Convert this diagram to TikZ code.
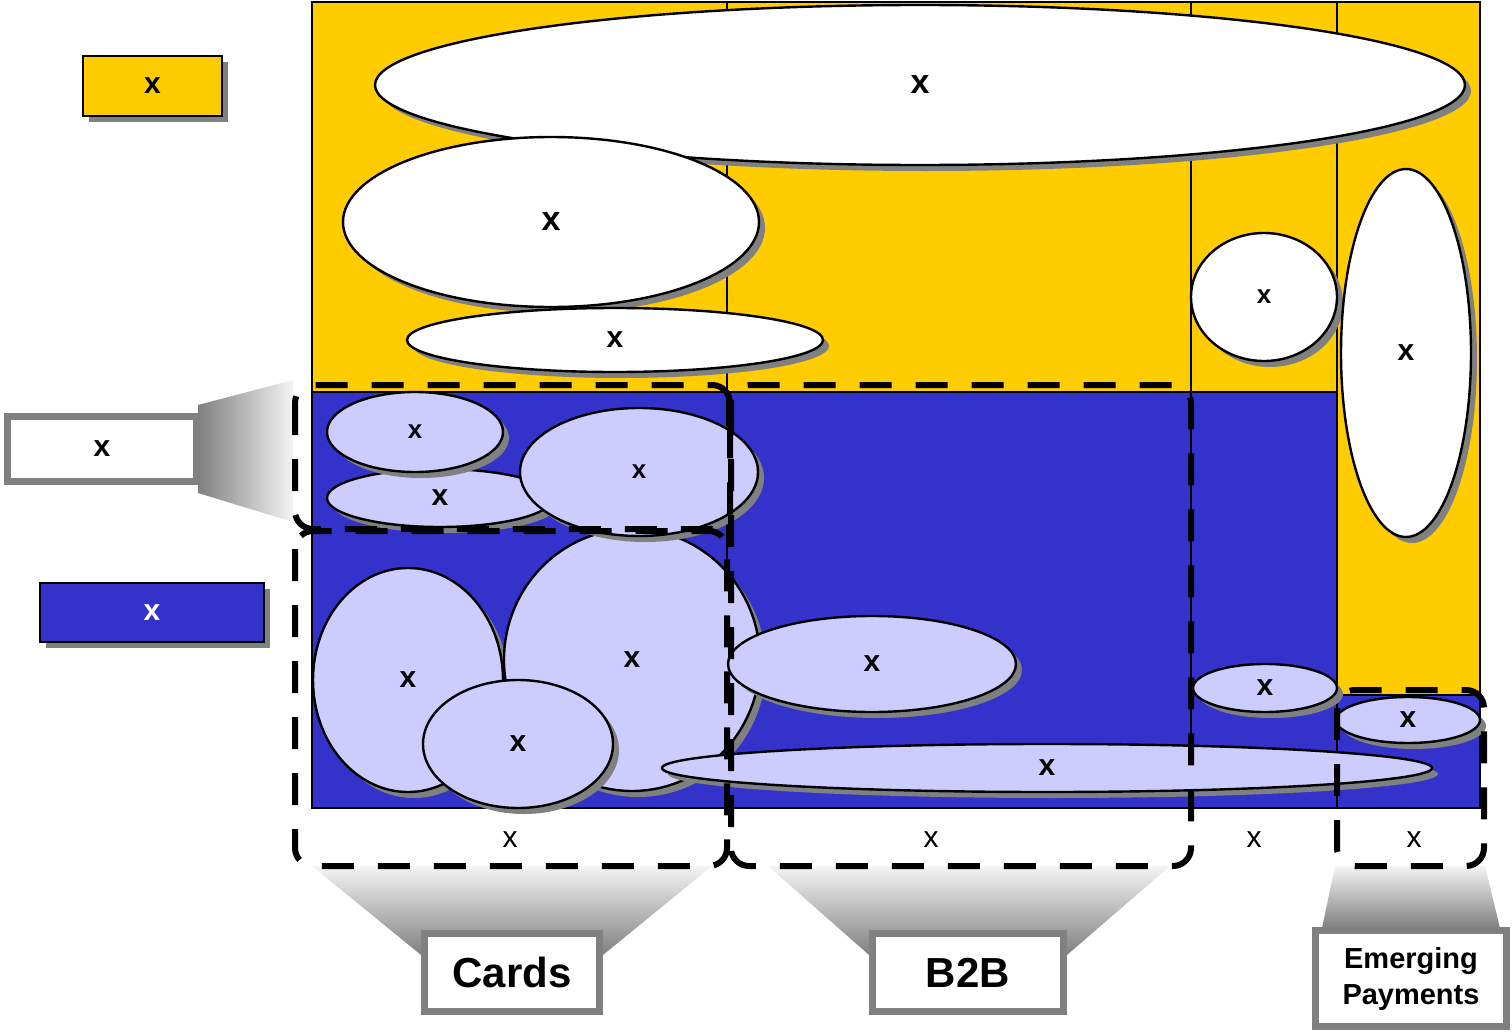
\documentclass[tikz,border=0pt]{standalone}
\usepackage{fontspec}
\setmainfont{Liberation Sans}
\usepackage{xcolor}
\usepackage{tikz}
\usetikzlibrary{shapes.geometric,shadows,positioning}

\definecolor{segYellow}{HTML}{FFCC00}
\definecolor{segBlue}{HTML}{3333CC}
\definecolor{segLilac}{HTML}{CCCCFF}
\definecolor{shadowGray}{HTML}{808080}
\definecolor{fadeGray}{HTML}{F4F4F4}

\begin{document}
\begin{tikzpicture}[x=0.5pt, y=-0.5pt,
  cellline/.style={draw=black, line width=1pt},
  blob/.style={ellipse, draw=black, line width=1.2pt, inner sep=0pt,
    drop shadow={shadow xshift=3pt, shadow yshift=-3pt, fill=shadowGray, opacity=1}},
  wblob/.style={blob, fill=white},
  lblob/.style={blob, fill=segLilac},
  dims/.style 2 args={minimum width=#1pt, minimum height=#2pt},
  lbBig/.style={font=\fontsize{17}{17}\selectfont\bfseries},
  lbMid/.style={font=\fontsize{15}{15}\selectfont\bfseries},
  lbSmall/.style={font=\fontsize{13}{13}\selectfont\bfseries},
  dashbox/.style={draw=black, line width=3pt, dash pattern=on 16pt off 12pt, rounded corners=9pt},
  callout/.style={draw=shadowGray, line width=3.5pt, fill=white, inner sep=0pt, align=center},
  tagfont/.style={font=\fontsize{21}{21}\selectfont\bfseries},
  legendbox/.style={draw=black, line width=1pt, inner sep=0pt, lbMid,
    drop shadow={shadow xshift=3pt, shadow yshift=-3pt, fill=shadowGray, opacity=1}},
  colx/.style={font=\fontsize{15}{15}\selectfont}
]
\useasboundingbox (0,0) rectangle (1512,1033);

% segment grid
\fill[segYellow] (312,2) rectangle (1480,808);
\fill[segBlue] (312,392) rectangle (1337,808);
\fill[segBlue] (1337,695) rectangle (1480,808);
\draw[cellline] (312,2) rectangle (1480,808);
\draw[cellline] (727,2) -- (727,808) (1191,2) -- (1191,808) (1337,2) -- (1337,808);
\draw[cellline] (312,392) -- (1337,392) (1337,695) -- (1480,695);

% upper (yellow) bubbles
\node[wblob, dims={545}{80}, lbBig] (wTop) at (920,85) {x};
\node[wblob, dims={208}{85}, lbBig] (wLeft) at (551,222) {x};
\node[wblob, dims={208}{32}, lbMid] (wFlat) at (615,340) {x};
\node[wblob, dims={73}{64}, lbSmall] (wRound) at (1264,297) {x};
\node[wblob, dims={65}{184}, lbMid] (wTall) at (1406,353) {x};

% lower (blue) bubbles
\node[lblob, dims={95}{112}, lbMid] (lLeft) at (408,680) {x};
\node[lblob, dims={128}{131}, lbMid] (lBig) at (632,660) {x};
\node[lblob, dims={95}{64}, lbMid] (lSmall) at (518,744) {x};
\node[lblob, dims={144}{48}, lbMid] (lMid) at (872,664) {x};
\node[lblob, dims={385}{24}, lbMid] (lLong) at (1047,768) {x};
\node[lblob, dims={113}{29}, lbMid] (lFlat) at (440,498) {x};
\node[lblob, dims={88}{40}, lbSmall] (lTop) at (415,432) {x};
\node[lblob, dims={119}{64}, lbSmall] (lRight) at (639,472) {x};
\node[lblob, dims={72}{24}, lbMid] (lThird) at (1265,688) {x};
\node[lblob, dims={72}{23}, lbMid] (lEdge) at (1408,720) {x};

% fading callout wedges
\shade[left color=shadowGray, right color=fadeGray] (198,405) -- (293,380) -- (293,522) -- (198,493) -- cycle;
\shade[top color=fadeGray, bottom color=shadowGray] (312,866) -- (712,866) -- (603,955) -- (421,955) -- cycle;
\shade[top color=fadeGray, bottom color=shadowGray] (768,866) -- (1170,866) -- (1067,955) -- (869,955) -- cycle;
\shade[top color=fadeGray, bottom color=shadowGray] (1335,866) -- (1485,866) -- (1500,928) -- (1322,928) -- cycle;

% dashed groupings
\draw[dashbox] (295,385) rectangle (730,529);
\draw[dashbox] (295,531) rectangle (727,866);
\draw[dashbox] (731,385) rectangle (1191,866);
\draw[dashbox] (1337,690) rectangle (1484,866);

% column labels
\foreach \n/\x in {colCards/510,colB2B/931,colOther/1254,colEP/1414}
  \node[colx] (\n) at (\x,840) {x};

% callouts
\node[callout, minimum width=94.5pt, minimum height=32.5pt, lbMid] (sideNote) at (102,449) {x};
\node[callout, minimum width=87.5pt, minimum height=39pt, tagfont] (cardsTag) at (512,972.5) {Cards};
\node[callout, minimum width=95.5pt, minimum height=39pt, tagfont] (b2bTag) at (968,972.5) {B2B};
\node[callout, minimum width=95.5pt, minimum height=48pt, font=\fontsize{14.5}{18}\selectfont\bfseries] (epTag) at (1411,978.5) {Emerging\\Payments};

% legend
\node[legendbox, fill=segYellow, minimum width=69.5pt, minimum height=30pt] (legYellow) at (152.5,86) {x};
\node[legendbox, fill=segBlue, text=white, minimum width=112pt, minimum height=29.5pt] (legBlue) at (152,612.5) {x};
\end{tikzpicture}
\end{document}
